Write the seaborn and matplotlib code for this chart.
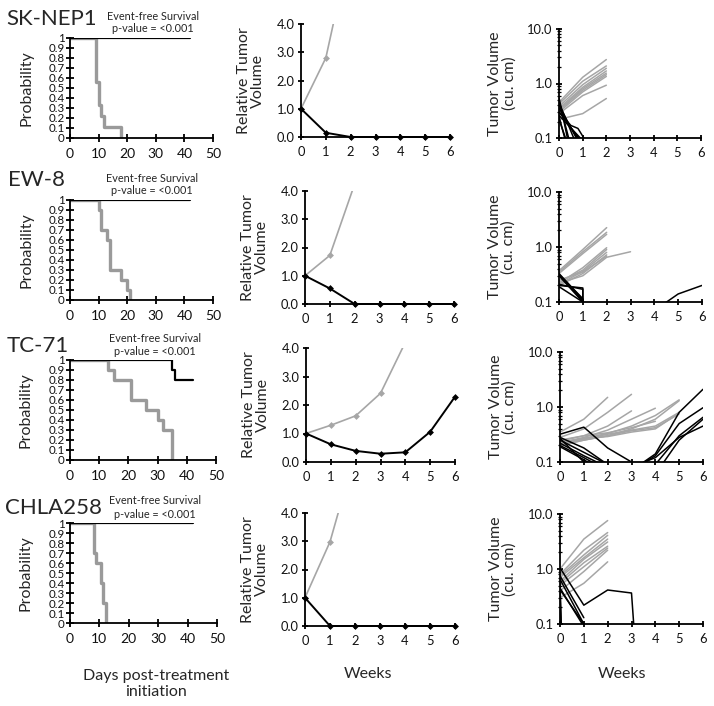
import numpy as np
import pandas as pd
import matplotlib
matplotlib.use("Agg")
import matplotlib.pyplot as plt
import seaborn as sns
from matplotlib.ticker import LogLocator, NullFormatter

# ---------------- data ----------------
models = ["SK-NEP1", "EW-8", "TC-71", "CHLA258"]

# Kaplan-Meier (event-free survival), days
km_ctrl_days = {
    "SK-NEP1": [0, 9, 10, 11, 12, 18],
    "EW-8": [0, 10, 11, 13, 14, 18, 20, 21],
    "TC-71": [0, 13, 15, 21, 26, 30, 32, 35],
    "CHLA258": [0, 8, 9, 10.5, 11.3, 12.2],
}
km_ctrl_surv = {
    "SK-NEP1": [1, 0.556, 0.333, 0.222, 0.111, 0],
    "EW-8": [1, 0.9, 0.7, 0.6, 0.3, 0.2, 0.1, 0],
    "TC-71": [1, 0.9, 0.8, 0.6, 0.5, 0.4, 0.3, 0],
    "CHLA258": [1, 0.7, 0.6, 0.4, 0.2, 0],
}
km_trt_days = {
    "SK-NEP1": [0, 42],
    "EW-8": [0, 42],
    "TC-71": [0, 35, 36, 42],
    "CHLA258": [0, 42],
}
km_trt_surv = {
    "SK-NEP1": [1, 1],
    "EW-8": [1, 1],
    "TC-71": [1, 0.9, 0.8, 0.8],
    "CHLA258": [1, 1],
}
km_ticks = [0, 10, 20, 30, 40, 50]
prob_ticks = [0, 0.1, 0.2, 0.3, 0.4, 0.5, 0.6, 0.7, 0.8, 0.9, 1]
prob_labels = ["0", "0.1", "0.2", "0.3", "0.4", "0.5", "0.6", "0.7", "0.8", "0.9", "1"]

# Median relative tumor volume
weeks = [0, 1, 2, 3, 4, 5, 6]
rtv_ctrl_weeks = {
    "SK-NEP1": [0, 1, 2],
    "EW-8": [0, 1, 2],
    "TC-71": [0, 1, 2, 3, 4],
    "CHLA258": [0, 1, 2],
}
rtv_ctrl = {
    "SK-NEP1": [1.0, 2.8, 6.8],
    "EW-8": [1.0, 1.72, 4.25],
    "TC-71": [1.0, 1.29, 1.62, 2.41, 4.2],
    "CHLA258": [1.0, 2.98, 6.1],
}
rtv_trt = {
    "SK-NEP1": [1.0, 0.15, 0, 0, 0, 0, 0],
    "EW-8": [1.0, 0.55, 0, 0, 0, 0, 0],
    "TC-71": [1.0, 0.62, 0.39, 0.29, 0.34, 1.06, 2.29],
    "CHLA258": [1.0, 0, 0, 0, 0, 0, 0],
}
rtv_ticks = [0, 1, 2, 3, 4]
rtv_labels = ["0.0", "1.0", "2.0", "3.0", "4.0"]

# Individual tumor volumes (cu. cm): (group, weeks, volumes)
tv_sknep1 = [
    ("Control", [0, 1, 2], [0.45, 1.3, 2.75]),
    ("Control", [0, 1, 2], [0.42, 1.1, 2.1]),
    ("Control", [0, 1, 2], [0.38, 0.95, 1.9]),
    ("Control", [0, 1, 2], [0.35, 0.85, 1.7]),
    ("Control", [0, 1, 2], [0.33, 0.8, 1.55]),
    ("Control", [0, 1, 2], [0.32, 0.75, 1.45]),
    ("Control", [0, 1, 2], [0.30, 0.7, 1.35]),
    ("Control", [0, 1, 2], [0.28, 0.6, 0.93]),
    ("Control", [0, 1, 2], [0.22, 0.28, 0.53]),
    ("Treated", [0, 0.5], [0.55, 0.05]),
    ("Treated", [0, 0.5], [0.48, 0.07]),
    ("Treated", [0, 1], [0.45, 0.04]),
    ("Treated", [0, 1], [0.40, 0.06]),
    ("Treated", [0, 1], [0.35, 0.07]),
    ("Treated", [0, 1], [0.30, 0.08]),
    ("Treated", [0, 1], [0.26, 0.09]),
    ("Treated", [0, 0.5, 0.8, 1.05], [0.30, 0.17, 0.15, 0.1]),
    ("Treated", [0, 0.3], [0.25, 0.08]),
    ("Treated", [0, 0.4], [0.22, 0.07]),
]
tv_ew8 = [
    ("Control", [0, 1, 2], [0.37, 0.9, 2.25]),
    ("Control", [0, 1, 2], [0.35, 0.82, 1.85]),
    ("Control", [0, 1, 2], [0.33, 0.76, 1.7]),
    ("Control", [0, 1, 2], [0.22, 0.42, 0.97]),
    ("Control", [0, 1, 2], [0.23, 0.38, 0.9]),
    ("Control", [0, 1, 2], [0.21, 0.36, 0.8]),
    ("Control", [0, 1, 2], [0.20, 0.33, 0.72]),
    ("Control", [0, 1, 2, 3], [0.22, 0.3, 0.65, 0.82]),
    ("Control", [0, 1, 2], [0.25, 0.35, 0.68]),
    ("Treated", [0, 1], [0.33, 0.11]),
    ("Treated", [0, 1], [0.31, 0.105]),
    ("Treated", [0, 1], [0.30, 0.1]),
    ("Treated", [0, 1], [0.32, 0.115]),
    ("Treated", [0, 1, 1.01], [0.20, 0.18, 0.01]),
    ("Treated", [0, 1], [0.19, 0.1]),
    ("Treated", [0, 1, 1.01], [0.21, 0.17, 0.01]),
    ("Treated", [4, 5, 6], [0.07, 0.14, 0.2]),
]
tv_tc71 = [
    ("Control", [0, 1, 2], [0.35, 0.6, 1.5]),
    ("Control", [0, 1, 2, 3], [0.28, 0.4, 0.8, 1.7]),
    ("Control", [0, 1, 2, 3], [0.25, 0.3, 0.45, 0.85]),
    ("Control", [0, 1, 2, 3, 4], [0.22, 0.28, 0.38, 0.6, 0.95]),
    ("Control", [0, 1, 2, 3, 4, 5], [0.22, 0.27, 0.33, 0.45, 0.7, 1.35]),
    ("Control", [0, 1, 2, 3, 4, 5], [0.20, 0.25, 0.3, 0.4, 0.6, 1.3]),
    ("Control", [0, 1, 2, 3, 4, 5], [0.21, 0.26, 0.32, 0.38, 0.45, 0.8]),
    ("Control", [0, 1, 2, 3, 4, 5], [0.20, 0.25, 0.3, 0.37, 0.42, 0.75]),
    ("Control", [0, 1, 2, 3, 4, 5], [0.23, 0.27, 0.29, 0.35, 0.4, 0.78]),
    ("Control", [0, 1, 2, 3, 4], [0.24, 0.3, 0.34, 0.42, 0.55]),
    ("Treated", [0, 1, 2, 3], [0.32, 0.43, 0.18, 0.1]),
    ("Treated", [0, 1, 2, 3, 4, 5, 6], [0.28, 0.18, 0.09, 0.07, 0.14, 0.8, 2.1]),
    ("Treated", [0, 1, 2, 3, 4, 5, 6], [0.25, 0.15, 0.09, 0.07, 0.13, 0.5, 0.97]),
    ("Treated", [0, 1, 2, 3, 4, 5, 6], [0.22, 0.13, 0.08, 0.06, 0.09, 0.3, 0.65]),
    ("Treated", [0, 1, 2, 3, 4, 5, 6], [0.20, 0.12, 0.07, 0.05, 0.06, 0.25, 0.6]),
    ("Treated", [0, 1, 2, 3, 4, 5, 6], [0.19, 0.11, 0.06, 0.08, 0.12, 0.28, 0.45]),
    ("Treated", [0, 1], [0.27, 0.1]),
]
tv_chla258 = [
    ("Control", [0, 1, 2], [1.0, 3.5, 7.6]),
    ("Control", [0, 1, 2], [0.8, 2.2, 4.6]),
    ("Control", [0, 1, 2], [0.75, 1.8, 4.1]),
    ("Control", [0, 1, 2], [0.7, 1.6, 3.5]),
    ("Control", [0, 1, 2], [0.6, 1.5, 3.1]),
    ("Control", [0, 1, 2], [0.55, 1.3, 2.6]),
    ("Control", [0, 1, 2], [0.5, 1.1, 2.4]),
    ("Control", [0, 1, 2], [0.4, 0.9, 2.2]),
    ("Control", [0, 1, 2], [0.3, 0.55, 1.35]),
    ("Treated", [0, 1, 2, 3, 3.1], [1.05, 0.22, 0.415, 0.366, 0.09]),
    ("Treated", [0, 1], [0.75, 0.13]),
    ("Treated", [0, 1], [0.65, 0.1]),
    ("Treated", [0, 1], [0.45, 0.09]),
    ("Treated", [0, 1], [0.42, 0.1]),
    ("Treated", [0, 0.1], [0.55, 0.02]),
    ("Treated", [0, 0.1], [0.4, 0.02]),
]
tv_data = {"SK-NEP1": tv_sknep1, "EW-8": tv_ew8, "TC-71": tv_tc71, "CHLA258": tv_chla258}
tv_ticks = [0.1, 1, 10]
tv_labels = ["0.1", "1.0", "10.0"]

# ---------------- layout (pixels: left, top, right, bottom) ----------------
W, H = 714, 706
km_pos = [(70, 38, 213, 138), (70, 200, 213, 300), (70, 360, 216, 460), (70, 523, 217, 623)]
rtv_pos = [(301, 24, 450, 137), (305, 191, 454, 304), (306, 348, 455, 462), (305, 513, 455, 626)]
tv_pos = [(559, 29, 701, 138), (559, 192, 702, 302), (560, 352, 703, 462), (560, 514, 703, 624)]
name_pos = [(6, 19), (8, 180), (7, 346), (5, 508)]
efs_pos = [(153, 16, 28), (152, 178, 191), (155, 338, 351), (155, 501, 515)]

GRAY_KM = "#9a9a9a"
GRAY = "#a6a6a6"

sns.set_style("ticks")
plt.rcParams["font.family"] = ["Lato", "DejaVu Sans"]
plt.rcParams["axes.linewidth"] = 1.3
plt.rcParams["axes.edgecolor"] = "black"

fig = plt.figure(figsize=(W / 100, H / 100), dpi=100)


def make_ax(p):
    l, t, r, b = p
    return fig.add_axes([l / W, 1 - b / H, (r - l) / W, (b - t) / H])


def style(ax, xsize=9, ysize=9, length=6):
    sns.despine(ax=ax)
    ax.tick_params(axis="both", which="major", direction="inout", length=length,
                   width=1.3, color="black", pad=2, labelcolor="#111111")
    ax.tick_params(axis="x", labelsize=xsize)
    ax.tick_params(axis="y", labelsize=ysize)
    ax.set_facecolor("white")


for i, m in enumerate(models):
    # ---- Kaplan-Meier ----
    ax = make_ax(km_pos[i])
    sns.lineplot(x=km_ctrl_days[m], y=km_ctrl_surv[m], ax=ax, color=GRAY_KM, lw=2.4,
                 drawstyle="steps-post", estimator=None, sort=False)
    sns.lineplot(x=km_trt_days[m], y=km_trt_surv[m], ax=ax, color="black", lw=1.6,
                 drawstyle="steps-post", estimator=None, sort=False)
    ax.set_xlim(0, 50)
    ax.set_ylim(0, 1)
    ax.set_xticks(km_ticks)
    ax.set_yticks(prob_ticks, labels=prob_labels)
    style(ax, xsize=10, ysize=8.3, length=6)
    ax.tick_params(axis="y", pad=1)
    ax.tick_params(axis="x", pad=4)
    ax.set_ylabel("Probability", fontsize=11.5)
    ax.yaxis.set_label_coords(-0.255, 0.5)

    nx, ny = name_pos[i]
    fig.text(nx / W, 1 - ny / H, m, fontsize=16, ha="left", va="center")
    ex, ey1, ey2 = efs_pos[i]
    fig.text(ex / W, 1 - ey1 / H, "Event-free Survival", fontsize=7.8, ha="center", va="center")
    fig.text(ex / W, 1 - ey2 / H, "p-value = <0.001", fontsize=7.8, ha="center", va="center")

    # ---- Relative tumor volume ----
    ax = make_ax(rtv_pos[i])
    sns.lineplot(x=rtv_ctrl_weeks[m], y=rtv_ctrl[m], ax=ax, color=GRAY, lw=1.2,
                 marker="D", markersize=3.5, markeredgewidth=0, estimator=None, sort=False)
    sns.lineplot(x=weeks, y=rtv_trt[m], ax=ax, color="black", lw=1.4,
                 marker="D", markersize=3.5, markeredgewidth=0, estimator=None, sort=False,
                 clip_on=False)
    ax.set_xlim(0, 6)
    ax.set_ylim(0, 4)
    ax.set_xticks(weeks)
    ax.set_yticks(rtv_ticks, labels=rtv_labels)
    style(ax, xsize=9.3, ysize=9.3, length=5)
    ax.tick_params(axis="x", pad=4)
    ax.set_ylabel("Relative Tumor\nVolume", fontsize=11.5, linespacing=1.0)
    ax.yaxis.set_label_coords(-0.24, 0.5)

    # ---- Individual tumor volumes ----
    ax = make_ax(tv_pos[i])
    rows = []
    for k, (grp, wk, vol) in enumerate(tv_data[m]):
        for w_, v_ in zip(wk, vol):
            rows.append({"mouse": k, "group": grp, "week": w_, "volume": v_})
    df = pd.DataFrame(rows)
    sns.lineplot(data=df, x="week", y="volume", hue="group", units="mouse",
                 estimator=None, sort=False, ax=ax, lw=1.1, legend=False,
                 hue_order=["Control", "Treated"],
                 palette={"Control": GRAY, "Treated": "black"})
    ax.set_yscale("log")
    ax.set_xlim(0, 6)
    ax.set_ylim(0.1, 10)
    ax.set_xticks(weeks)
    ax.set_yticks(tv_ticks, labels=tv_labels)
    ax.yaxis.set_minor_locator(LogLocator(base=10, subs=np.arange(2, 10)))
    ax.yaxis.set_minor_formatter(NullFormatter())
    style(ax, xsize=9.3, ysize=9.3, length=5)
    ax.tick_params(axis="x", pad=4)
    ax.tick_params(axis="y", which="minor", direction="inout", length=3, width=0.9, color="black")
    ax.set_xlabel("")
    ax.set_ylabel("Tumor Volume\n(cu. cm)", fontsize=11.5, linespacing=1.0)
    ax.yaxis.set_label_coords(-0.30, 0.5)

fig.text(156 / W, 1 - 684 / H, "Days post-treatment\ninitiation", fontsize=11.5,
         ha="center", va="center", linespacing=1.1)
fig.text(368 / W, 1 - 674 / H, "Weeks", fontsize=11.5, ha="center", va="center")
fig.text(622 / W, 1 - 674 / H, "Weeks", fontsize=11.5, ha="center", va="center")

fig.savefig("out.png", dpi=100, facecolor="white")
